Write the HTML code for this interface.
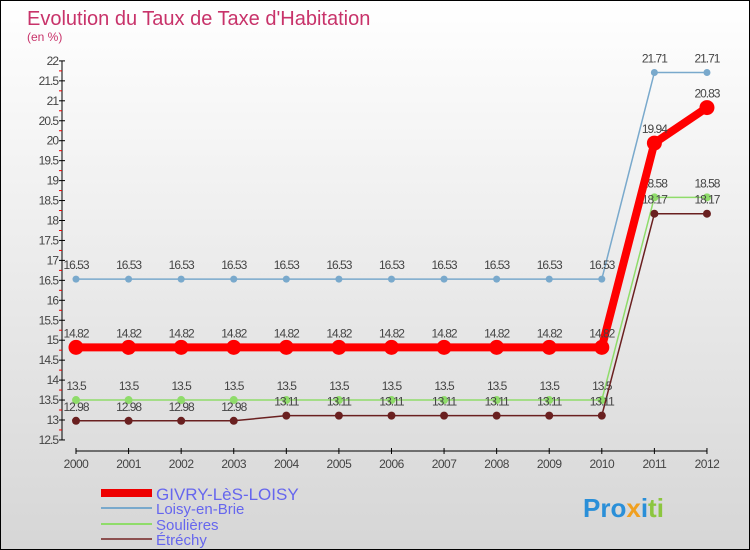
<!DOCTYPE html>
<html><head><meta charset="utf-8"><style>
body{margin:0}
#c{width:748px;height:548px;border:1px solid #000;background:linear-gradient(#fff,#d6d6d6);position:relative;font-family:"Liberation Sans","DejaVu Sans",sans-serif}
</style></head><body>
<div id="c">
<svg id="s" width="748" height="548" style="position:absolute;left:0;top:0">
<text x="26" y="24" font-size="20" fill="#c8336a">Evolution du Taux de Taxe d'Habitation</text>
<text x="26" y="40" font-size="12" fill="#c8336a">(en %)</text>
<g id="g"></g>
<g>
<rect x="100" y="488" width="51" height="8" fill="#e00"/>
<text x="155" y="499" font-size="17" fill="#6666ee">GIVRY-LèS-LOISY</text>
<line x1="100" y1="507" x2="151" y2="507" stroke="#79a9cc" stroke-width="2"/>
<text x="155" y="513" font-size="15" fill="#6666ee">Loisy-en-Brie</text>
<line x1="100" y1="523" x2="151" y2="523" stroke="#8fdc6a" stroke-width="2"/>
<text x="155" y="529" font-size="15" fill="#6666ee">Soulières</text>
<line x1="100" y1="538" x2="151" y2="538" stroke="#8c5050" stroke-width="2"/>
<text x="155" y="544" font-size="15" fill="#6666ee">Étréchy</text>
</g>
<text x="582" y="516" font-size="26" font-weight="bold"><tspan fill="#2a8fd8">Pro</tspan><tspan fill="#f0a020">x</tspan><tspan fill="#2a8fd8">i</tspan><tspan fill="#8cc63f">ti</tspan></text>
</svg>
</div>
<script>
const years=[2000,2001,2002,2003,2004,2005,2006,2007,2008,2009,2010,2011,2012];
const givry=[14.82,14.82,14.82,14.82,14.82,14.82,14.82,14.82,14.82,14.82,14.82,19.94,20.83];
const loisy=[16.53,16.53,16.53,16.53,16.53,16.53,16.53,16.53,16.53,16.53,16.53,21.71,21.71];
const soul=[13.5,13.5,13.5,13.5,13.5,13.5,13.5,13.5,13.5,13.5,13.5,18.58,18.58];
const etre=[12.98,12.98,12.98,12.98,13.11,13.11,13.11,13.11,13.11,13.11,13.11,18.17,18.17];
const yTicks=["12.5","13","13.5","14","14.5","15","15.5","16","16.5","17","17.5","18","18.5","19","19.5","20","20.5","21","21.5","22"];
const NS="http://www.w3.org/2000/svg",g=document.getElementById('g');
const X=i=>75+i*52.58, Y=v=>419-(v-13)*39.9;
function el(t,a){const e=document.createElementNS(NS,t);for(const k in a)e.setAttribute(k,a[k]);g.appendChild(e);return e;}
let e=el('line',{x1:61,y1:Y(12.5),x2:61,y2:Y(22),stroke:'#000'});


e=el('line',{x1:75,y1:450,x2:X(12),y2:450,stroke:'#000'});


yTicks.forEach(t=>{const v=+t,y=Y(v);
el('line',{x1:58,y1:y,x2:64,y2:y,stroke:'#000'});
if(v<22)el('line',{x1:58,y1:Y(v+0.25),x2:61,y2:Y(v+0.25),stroke:'#e00'});
const tx=el('text',{x:57,y:y+4,'font-size':12,fill:'#444','text-anchor':'end','letter-spacing':'-1'});tx.textContent=t;

});
years.forEach((yr,i)=>{el('line',{x1:X(i),y1:447,x2:X(i),y2:453,stroke:'#000'});
const tx=el('text',{x:X(i),y:467,'font-size':12,fill:'#444','text-anchor':'middle','letter-spacing':'-0.5'});tx.textContent=yr;

});
function series(d,col,w,r,name,lab){
const p=el('polyline',{points:d.map((v,i)=>X(i)+','+Y(v)).join(' '),fill:'none',stroke:col,'stroke-width':w});


d.forEach((v,i)=>{const c=el('circle',{cx:X(i),cy:Y(v),r:r,fill:col});


const t=el('text',{x:X(i),y:Y(v)-10,'font-size':12,fill:'#444','text-anchor':'middle','letter-spacing':'-1'});t.textContent=lab(v);

});}
const f=v=>String(v);
series(loisy,'#79a9cc',1.5,3.5,'loisy',f);
series(soul,'#8fdc6a',1.5,4,'soulieres',f);
series(etre,'#6a2020',1.5,4,'etrechy',f);
series(givry,'#f00',8,7.5,'givry',f);
</script>
</body></html>
